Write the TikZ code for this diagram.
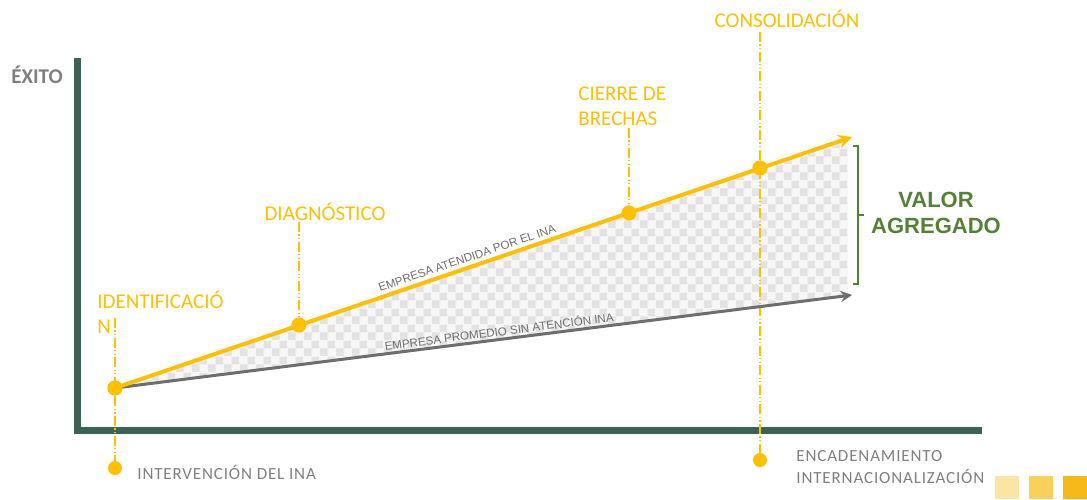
\documentclass[tikz,border=0pt]{standalone}
\usepackage{fontspec}
\setmainfont{Carlito}
\newfontfamily\arialfont{Liberation Sans}
\usetikzlibrary{patterns.meta}

\definecolor{inagold}{HTML}{FFC000}
\definecolor{inagray}{HTML}{6E6E6E}
\definecolor{txtgray}{HTML}{808080}
\definecolor{axisgreen}{HTML}{3B6355}
\definecolor{valgreen}{HTML}{548235}
\definecolor{sqA}{HTML}{FCE4A2}
\definecolor{sqB}{HTML}{FAD05A}
\definecolor{sqC}{HTML}{F7B919}

\tikzdeclarepattern{
  name=checks, type=uncolored,
  bounding box={(0,0) and (8pt,8pt)},
  tile size={(8pt,8pt)},
  code={\fill (0,0) rectangle (4pt,4pt); \fill (4pt,4pt) rectangle (8pt,8pt);}
}

\begin{document}
\begin{tikzpicture}[x=0.5pt, y=-0.5pt,
    dot/.style={circle, fill=inagold, inner sep=0pt, minimum size=7.5pt},
    smalldot/.style={circle, fill=inagold, inner sep=0pt, minimum size=7pt},
    stage/.style={text=inagold, inner sep=0pt, align=left, font=\fontsize{10.5}{12.5}\selectfont},
    guide/.style={inagold, line width=0.8pt, dash pattern=on 5pt off 1.2pt on 0.6pt off 1.2pt on 0.6pt off 1.2pt},
    note/.style={text=txtgray, inner sep=0pt, align=left, font=\fontsize{8.5}{11}\selectfont\addfontfeatures{LetterSpace=5}},
    linelabel/.style={text=inagray, inner sep=0pt, font=\arialfont\fontsize{5.8}{7}\selectfont}]
	\useasboundingbox (0,0) rectangle (1087,499);

	% points on the lines
	\node[dot] (dotId)     at (115, 388) {};
	\node[dot] (dotDiag)   at (299, 325) {};
	\node[dot] (dotCierre) at (629, 213) {};
	\node[dot] (dotCons)   at (760, 168) {};
	\coordinate (topEnd)  at (852, 137);
	\coordinate (baseEnd) at (852, 295);

	% value area
	\fill[gray!6] (dotId.center) -- (848, 138.5) -- (848, 296) -- cycle;
	\fill[pattern=checks, pattern color=gray!22] (dotId.center) -- (848, 138.5) -- (848, 296) -- cycle;

	% axes
	\draw[axisgreen, line width=3.5pt] (77, 58) |- (982, 430);
	\node[text=txtgray, font=\bfseries\fontsize{10.5}{12}\selectfont] (Exito) at (37, 75) {ÉXITO};

	% guides
	\node[smalldot] (dotInt) at (115, 468) {};
	\node[smalldot] (dotEnc) at (760, 460) {};
	\coordinate (gId)     at (115, 318);
	\coordinate (gDiag)   at (299, 222);
	\coordinate (gCierre) at (629, 128);
	\coordinate (gCons)   at (760, 32);
	\draw[guide] (gId)     -- (dotInt);
	\draw[guide] (gDiag)   -- (dotDiag);
	\draw[guide] (gCierre) -- (dotCierre);
	\draw[guide] (gCons)   -- (dotEnc);

	% lines
	\draw[->, >=stealth, inagray, line width=1.5pt] (dotId.center) -- (baseEnd);
	\draw[->, >=stealth, inagold, line width=2pt]   (dotId.center) -- (topEnd);
	\node[dot] at (dotId) {};
	\node[dot] at (dotDiag) {};
	\node[dot] at (dotCierre) {};
	\node[dot] at (dotCons) {};

	\node[linelabel, rotate=18.8] (lblTop)  at (467, 258) {EMPRESA ATENDIDA POR EL INA};
	\node[linelabel, rotate=7.2]  (lblBase) at (499, 331) {EMPRESA PROMEDIO SIN ATENCIÓN INA};

	% stages
	\node[stage, anchor=west] (Ident)  at (97, 312)  {IDENTIFICACIÓ\\N};
	\node[stage]              (Diag)   at (325, 212) {DIAGNÓSTICO};
	\node[stage, anchor=west] (Cierre) at (578, 106) {CIERRE DE\\BRECHAS};
	\node[stage]              (Cons)   at (787, 19)  {CONSOLIDACIÓN};

	% value bracket
	\draw[valgreen, line width=1pt] (853, 146) -- (858, 146) -- (858, 284) -- (853, 284);
	\draw[valgreen, line width=1pt] (858, 215) -- (864, 215);
	\node[text=valgreen, align=center, font=\arialfont\bfseries\fontsize{11}{13}\selectfont] (Valor) at (936, 213) {VALOR\\AGREGADO};

	% notes
	\node[note, anchor=west] (Interv) at (137, 472) {INTERVENCIÓN DEL INA};
	\node[note, anchor=west] (Encad)  at (796, 467) {ENCADENAMIENTO\\INTERNACIONALIZACIÓN};

	% squares
	\fill[sqA] (995, 476)  rectangle (1019, 499);
	\fill[sqB] (1029, 476) rectangle (1053, 499);
	\fill[sqC] (1063, 476) rectangle (1087, 499);
\end{tikzpicture}
\end{document}
